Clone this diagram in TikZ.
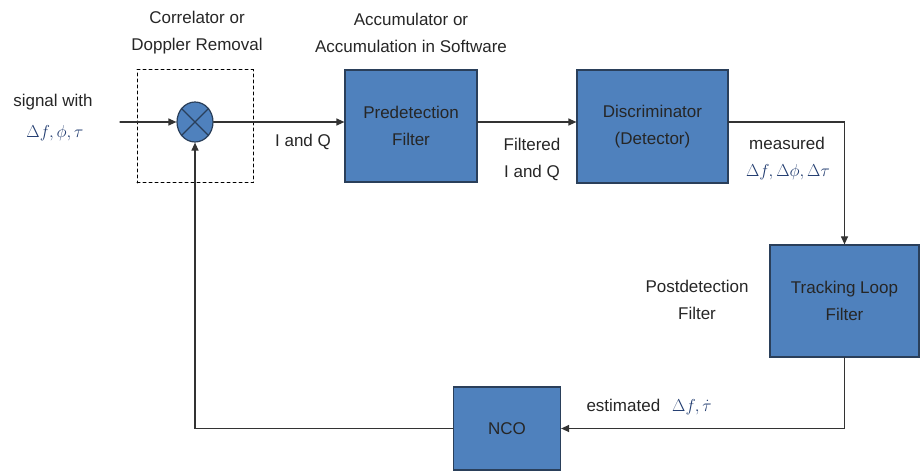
\documentclass[tikz,border=0pt]{standalone}
\usepackage{amsmath,amssymb}
\usepackage{fontspec}
\setmainfont{Liberation Sans}
\usepackage{tikz}
\usetikzlibrary{arrows.meta,shapes.geometric}
\usepackage{xcolor}
\definecolor{boxblue}{HTML}{4F81BD}
\definecolor{boxedge}{HTML}{2A3F5A}
\definecolor{mathblue}{HTML}{1F3A6E}
\definecolor{wire}{HTML}{333333}

\begin{document}
\begin{tikzpicture}[x=1pt,y=-1pt,>={Triangle[length=8pt,width=7pt]},
  font=\fontsize{17}{27}\selectfont,line cap=round,
  blk/.style={draw=boxedge,fill=boxblue,line width=1.2pt,text=black!85,align=center},
  lbl/.style={align=center,text=black!85},
  sym/.style={text=mathblue,font=\fontsize{19}{27}\selectfont},
  wireline/.style={draw=wire,line width=1.2pt}]
\useasboundingbox (0,0) rectangle (921,473);
% dashed correlator frame and mixer
\node[draw=black,dashed,line width=1pt,minimum width=116pt,minimum height=113pt] (corr) at (195,126.5) {};
\node[ellipse,draw=boxedge,fill=boxblue,line width=1.2pt,minimum width=36pt,minimum height=40pt,inner sep=0pt] (mix) at (195,122) {};
\draw[boxedge,line width=1.1pt] (mix.45) -- (mix.225) (mix.135) -- (mix.315);
% blocks
\node[blk,minimum width=132pt,minimum height=112pt] (pre) at (411,126) {Predetection\\Filter};
\node[blk,minimum width=151pt,minimum height=113pt] (disc) at (652.5,126.5) {Discriminator\\(Detector)};
\node[blk,minimum width=149pt,minimum height=112pt] (track) at (844.5,301) {Tracking Loop\\Filter};
\node[blk,minimum width=107pt,minimum height=83pt] (nco) at (507,428.5) {NCO};
% texts
\node[lbl] (corrtxt) at (197,33) {Correlator or\\Doppler Removal};
\node[lbl] (acctxt) at (411,33) {Accumulator or\\Accumulation in Software};
\node[lbl] (sigtxt) at (53,102) {signal with};
\node[sym] (sigsym) at (55,133) {$\Delta f,\phi,\tau$};
\node[lbl] (iqtxt) at (303,142) {I and Q};
\node[lbl] (filttxt) at (532,159) {Filtered\\I and Q};
\node[lbl] (meastxt) at (787,143) {measured};
\node[sym] (meassym) at (788,172) {$\Delta f,\Delta\phi,\Delta\tau$};
\node[lbl] (posttxt) at (697,300) {Postdetection\\Filter};
\node[lbl,anchor=west] (esttxt) at (583,407) {estimated\hspace{12pt}{\color{mathblue}\fontsize{19}{27}\selectfont$\Delta f,\dot{\tau}$}};
% connectors
\coordinate (src) at (120,122);
\draw[wireline,->] (src) -- (mix.west);
\draw[wireline,->] (mix.east) -- (pre.west |- mix.east);
\draw[wireline,->] (pre.east |- mix.east) -- (disc.west |- mix.east);
\draw[wireline,->] (disc.east |- mix.east) -| (track.north);
\draw[wireline,->] (track.south) |- (nco.east);
\draw[wireline,->] (nco.west) -| (mix.south);
\end{tikzpicture}
\end{document}
